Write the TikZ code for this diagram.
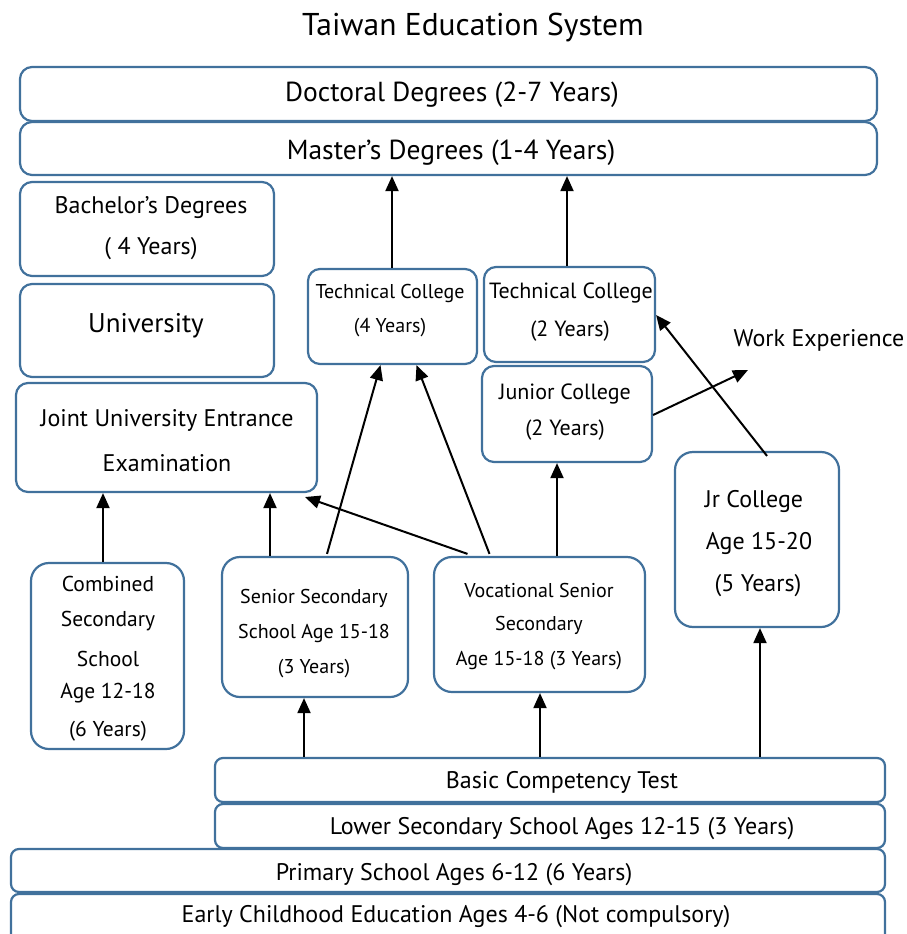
\documentclass[tikz,border=0pt]{standalone}
\usepackage{fontspec}
\setmainfont{PT Sans}
\usetikzlibrary{fit,arrows.meta}
\definecolor{boxblue}{HTML}{41719C}
\tikzset{
  box/.style={draw=boxblue, line width=2.2pt, rounded corners=12pt, inner sep=0pt, fill=white},
  txt/.style={align=center, inner sep=0pt, text=black, yshift=-2.5pt},
  arr/.style={line width=2pt, -{Triangle[length=15pt,width=13pt]}},
}
\newcommand{\fs}[1]{\fontsize{#1}{#1}\selectfont}
\begin{document}
\begin{tikzpicture}[x=1pt,y=-1pt]
\useasboundingbox (0,0) rectangle (906,934);
% title
\node[txt,font=\fs{31.5}] (title) at (473,25) {Taiwan Education System};
% boxes
\node[box, fit={(20,67) (877,121)}] (doc) {};
\node[txt,font=\fs{27.5}] (doct) at (452,92) {Doctoral Degrees (2-7 Years)};
\node[box, fit={(20,122) (877,175)}] (mas) {};
\node[txt,font=\fs{27.5}] (mast) at (451,150) {Master’s Degrees (1-4 Years)};
\node[box, fit={(20,182) (274,276)}] (bach) {};
\node[txt,font=\fs{24}] (bacht1) at (151,205) {Bachelor’s Degrees};
\node[txt,font=\fs{24}] (bacht2) at (151,246) {( 4 Years)};
\node[box, fit={(20,284) (274,377)}] (uni) {};
\node[txt,font=\fs{27}] (unit) at (146,323) {University};
\node[box, fit={(16,383) (317,492)}] (jue) {};
\node[txt,font=\fs{24}] (juet1) at (167,418) {Joint University Entrance};
\node[txt,font=\fs{24}] (juet2) at (167,461) {Examination};
\node[box, fit={(308,269) (477,364)}] (tc4) {};
\node[txt,font=\fs{20}] (tc4t1) at (390,291) {Technical College};
\node[txt,font=\fs{20}] (tc4t2) at (390,325) {(4 Years)};
\node[box, fit={(484,267) (655,362)}] (tc2) {};
\node[txt,font=\fs{22}] (tc2t1) at (571,290) {Technical College};
\node[txt,font=\fs{22}] (tc2t2) at (570,329) {(2 Years)};
\node[box, fit={(482,366) (652,462)}] (jun) {};
\node[txt,font=\fs{22}] (junt1) at (565,391) {Junior College};
\node[txt,font=\fs{22}] (junt2) at (565,428) {(2 Years)};
\node[txt,font=\fs{24}] (work) at (819,338) {Work Experience};
\coordinate (workc) at (748,370);
\node[box, fit={(675,452) (839,627)}, rounded corners=18pt] (jrc) {};
\node[txt,font=\fs{24}] (jrct1) at (754,499) {Jr College};
\node[txt,font=\fs{24}] (jrct2) at (759,541) {Age 15-20};
\node[txt,font=\fs{24}] (jrct3) at (758,583) {(5 Years)};
\node[box, fit={(31,563) (184,749)}, rounded corners=18pt] (comb) {};
\node[txt,font=\fs{21.5}] (combt1) at (108,581) {Combined};
\node[txt,font=\fs{21.5}] (combt2) at (108,619) {Secondary};
\node[txt,font=\fs{21.5}] (combt3) at (108,656) {School};
\node[txt,font=\fs{21.5}] (combt4) at (108,691) {Age 12-18};
\node[txt,font=\fs{21.5}] (combt5) at (108,729) {(6 Years)};
\node[box, fit={(222,557) (408,697)}, rounded corners=18pt] (sen) {};
\node[txt,font=\fs{20}] (sent1) at (314,596) {Senior Secondary};
\node[txt,font=\fs{20}] (sent2) at (314,631) {School Age 15-18};
\node[txt,font=\fs{20}] (sent3) at (314,666) {(3 Years)};
\node[box, fit={(434,557) (645,692)}, rounded corners=18pt] (voc) {};
\node[txt,font=\fs{20}] (voct1) at (539,588) {Vocational Senior};
\node[txt,font=\fs{20}] (voct2) at (539,623) {Secondary};
\node[txt,font=\fs{20}] (voct3) at (539,658) {Age 15-18 (3 Years)};
\node[box, fit={(215,758) (885,802)}, rounded corners=8pt] (bct) {};
\node[txt,font=\fs{24}] (bctt) at (562,780) {Basic Competency Test};
\node[box, fit={(215,804) (885,848)}, rounded corners=8pt] (low) {};
\node[txt,font=\fs{24}] (lowt) at (562,826) {Lower Secondary School Ages 12-15 (3 Years)};
\node[box, fit={(11,849) (885,892)}, rounded corners=8pt] (pri) {};
\node[txt,font=\fs{24}] (prit) at (454,872) {Primary School Ages 6-12 (6 Years)};
\node[box, fit={(11,894) (885,945)}, rounded corners=8pt] (ear) {};
\node[txt,font=\fs{24}] (eart) at (456,914) {Early Childhood Education Ages 4-6 (Not compulsory)};
% arrows
\draw[arr] (tc4.north -| 392,0) -- (mas.south -| 392,0);
\draw[arr] (tc2.north -| 567,0) -- (mas.south -| 567,0);
\draw[arr] ([xshift=12pt,yshift=2pt]sen.north) -- ([xshift=-12pt]tc4.south);
\draw[arr] ([xshift=-50pt,yshift=2pt]voc.north) -- ([xshift=24pt]tc4.south);
\draw[arr] ([xshift=-72pt,yshift=2pt]voc.north) -- (305,497);
\draw[arr] (sen.north -| 270,0) -- (jue.south -| 270,0);
\draw[arr] (comb.north -| 103,0) -- (jue.south -| 103,0);
\draw[arr] (voc.north -| 557,0) -- (jun.south -| 557,0);
\draw[arr] (jun.east |- 0,415) -- (workc);
\draw[arr] ([xshift=10pt,yshift=-5pt]jrc.north) -- (tc2.east |- 0,315);
\draw[arr] (bct.north -| 304,0) -- (sen.south -| 304,0);
\draw[arr] (bct.north -| 540,0) -- (voc.south -| 540,0);
\draw[arr] (bct.north -| 760,0) -- (jrc.south -| 760,0);
\end{tikzpicture}
\end{document}
